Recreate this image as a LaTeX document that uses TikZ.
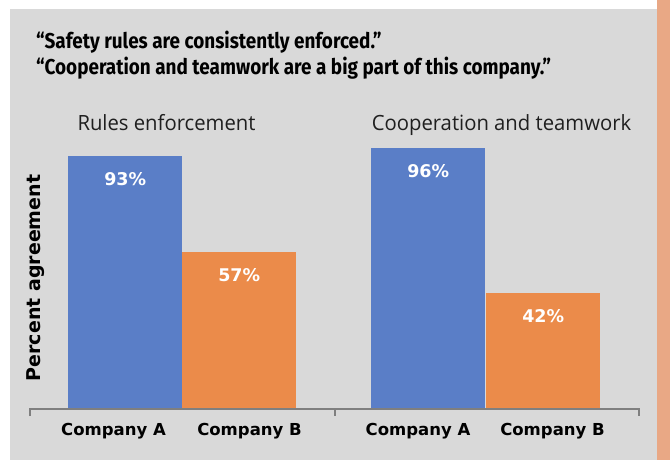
\documentclass[tikz,border=0pt]{standalone}
\usepackage{fontspec}
\setmainfont{DejaVu Sans}
\newfontfamily\titlefont[FakeStretch=0.88]{Fira Sans}
\newfontfamily\subfont[FakeStretch=0.965]{Open Sans}
\newfontfamily\labfont{DejaVu Sans}
\definecolor{panelgray}{HTML}{D9D9D9}
\definecolor{stripor}{HTML}{E9A885}
\definecolor{barblue}{HTML}{5A7EC7}
\definecolor{barorange}{HTML}{EB8B4A}
\definecolor{axisgray}{HTML}{7F7F7F}
\begin{document}
\begin{tikzpicture}[x=1pt,y=-1pt,
  bar/.style={draw=none,minimum width=114pt,inner sep=0pt,anchor=south west},
  pct/.style={font=\labfont\bfseries\fontsize{17.5}{20}\selectfont,text=white,inner sep=0pt},
  cat/.style={font=\labfont\bfseries\fontsize{16.5}{19}\selectfont,text=black,inner sep=0pt,anchor=base},
  sub/.style={font=\subfont\fontsize{21}{24}\selectfont,text=black!88,inner sep=0pt,anchor=base},
  ttl/.style={font=\titlefont\bfseries\fontsize{21.5}{25}\selectfont,anchor=base west,inner sep=0pt}]
\useasboundingbox (0,0) rectangle (670,460);
\fill[white] (0,0) rectangle (670,460);
\fill[panelgray] (10,9) rectangle (657,460);
\fill[stripor] (657,0) rectangle (670,460);
% title
\node[ttl] (t1) at (36,49) {“Safety rules are consistently enforced.”};
\node[ttl] (t2) at (36,75) {“Cooperation and teamwork are a big part of this company.”};
% subtitles
\node[sub] (s1) at (166.5,131) {Rules enforcement};
\node[sub] (s2) at (501.5,131) {Cooperation and teamwork};
% bars
\node[bar,fill=barblue,minimum height=253pt] (b1) at (68,409) {};
\node[bar,fill=barorange,minimum height=157pt] (b2) at (182,409) {};
\node[bar,fill=barblue,minimum height=261pt] (b3) at (371,409) {};
\node[bar,fill=barorange,minimum height=116pt] (b4) at (486,409) {};
% values
\node[pct] (v1) at ([yshift=-24pt]b1.north) {93\%};
\node[pct] (v2) at ([yshift=-24pt]b2.north) {57\%};
\node[pct] (v3) at ([yshift=-24pt]b3.north) {96\%};
\node[pct] (v4) at ([yshift=-24pt]b4.north) {42\%};
% axis
\coordinate (aL) at (30,409);
\coordinate (aM) at (335,409);
\coordinate (aR) at (639,409);
\draw[axisgray,line width=1.3pt] ([yshift=-7pt]aL) -- (aL) -- (aR) -- ([yshift=-7pt]aR);
\draw[axisgray,line width=1.3pt] (aM) -- ([yshift=-7pt]aM);
% categories
\node[cat] (c1) at (113.5,435) {Company A};
\node[cat] (c2) at (249.5,435) {Company B};
\node[cat] (c3) at (418,435) {Company A};
\node[cat] (c4) at (552.5,435) {Company B};
% y label
\node[font=\labfont\bfseries\fontsize{19}{22}\selectfont,rotate=90,inner sep=0pt] (yl) at (36,278) {Percent agreement};
\end{tikzpicture}
\end{document}
